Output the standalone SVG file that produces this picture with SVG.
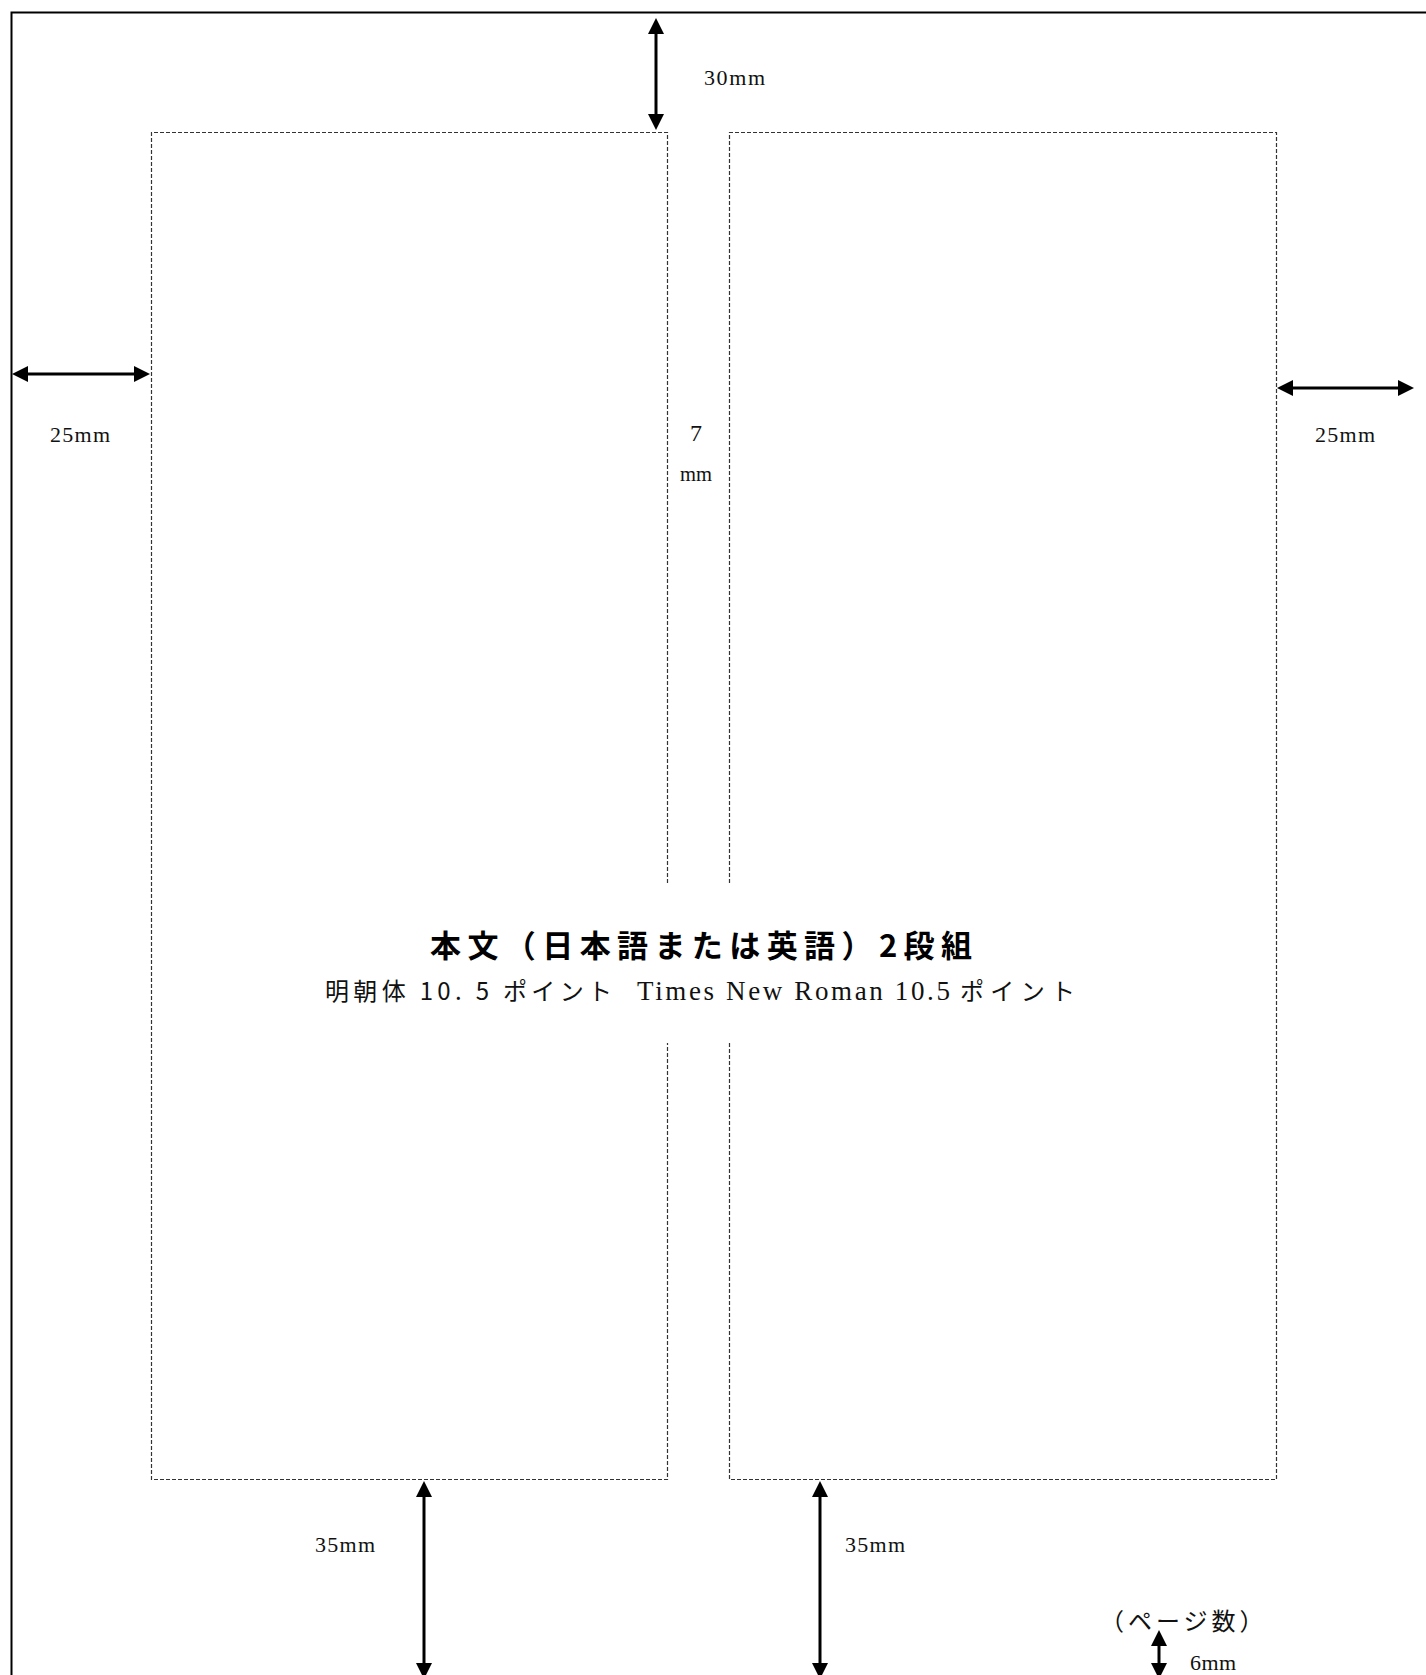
<svg xmlns="http://www.w3.org/2000/svg" width="1426" height="1675" viewBox="0 0 1426 1675">
<style>
.frame{fill:none;stroke:#000;stroke-width:2}
.col{fill:none;stroke:#333;stroke-width:1.2;stroke-dasharray:4 2}
.arr{stroke:#000;stroke-width:3;fill:none;marker-start:url(#ah);marker-end:url(#ah)}
.lbl{font-family:"Liberation Serif","Noto Sans CJK JP",serif;font-size:22px;fill:#111}
.jp{font-family:"Noto Sans CJK JP",sans-serif;font-size:24px;fill:#111}
.title{font-family:"Noto Sans CJK JP",sans-serif;font-size:31px;font-weight:bold;fill:#000}
</style>
<defs>
<marker id="ah" viewBox="0 0 16 16" refX="8" refY="8" markerWidth="16" markerHeight="16" markerUnits="userSpaceOnUse" orient="auto-start-reverse">
<path d="M0,0 L16,8 L0,16 z" fill="#000"/>
</marker>
</defs>
<rect width="1426" height="1675" fill="#fff"/>
<g id="page"><rect class="frame" x="11.5" y="12.5" width="1500" height="1800"/></g>
<g id="left-column"><path class="col" d="M667.5,883 V132.5 H151.5 V1479.5 H667.5 V1043"/></g>
<g id="right-column"><path class="col" d="M729.5,883 V132.5 H1276.5 V1479.5 H729.5 V1043"/></g>
<g id="connectors">
<line class="arr" x1="656" y1="26" x2="656" y2="122"/>
<line class="arr" x1="20" y1="374" x2="142" y2="374"/>
<line class="arr" x1="1285" y1="388" x2="1406" y2="388"/>
<line class="arr" x1="424" y1="1489" x2="424" y2="1671"/>
<line class="arr" x1="820" y1="1489" x2="820" y2="1671"/>
<line class="arr" x1="1159" y1="1638" x2="1159" y2="1671"/>
</g>
<g id="labels">
<text class="lbl" x="704" y="85" textLength="61" lengthAdjust="spacing">30mm</text>
<text class="lbl" x="50" y="442" textLength="60" lengthAdjust="spacing">25mm</text>
<text class="lbl" x="1315" y="442" textLength="60" lengthAdjust="spacing">25mm</text>
<text class="lbl" x="696" y="441" text-anchor="middle" style="font-size:24px">7</text>
<text class="lbl" x="680" y="481" textLength="32" lengthAdjust="spacingAndGlyphs">mm</text>
<text class="lbl" x="315" y="1552" textLength="60" lengthAdjust="spacing">35mm</text>
<text class="lbl" x="845" y="1552" textLength="60" lengthAdjust="spacing">35mm</text>
<text class="lbl" x="1190" y="1670" textLength="46" lengthAdjust="spacing">6mm</text>
<text class="jp" x="1100" y="1630" letter-spacing="4">（ページ数）</text>
</g>
<g id="body-text">
<text class="title" x="430" y="957" textLength="542" lengthAdjust="spacing">本文（日本語または英語）2段組</text>
<text class="jp" x="325" y="1000" textLength="287" lengthAdjust="spacing">明朝体 10. 5 ポイント</text>
<text class="lbl" x="637" y="1000" style="font-size:27px" textLength="313" lengthAdjust="spacing">Times New Roman 10.5</text>
<text class="jp" x="960" y="1000" textLength="115" lengthAdjust="spacing">ポイント</text>
</g>
</svg>
